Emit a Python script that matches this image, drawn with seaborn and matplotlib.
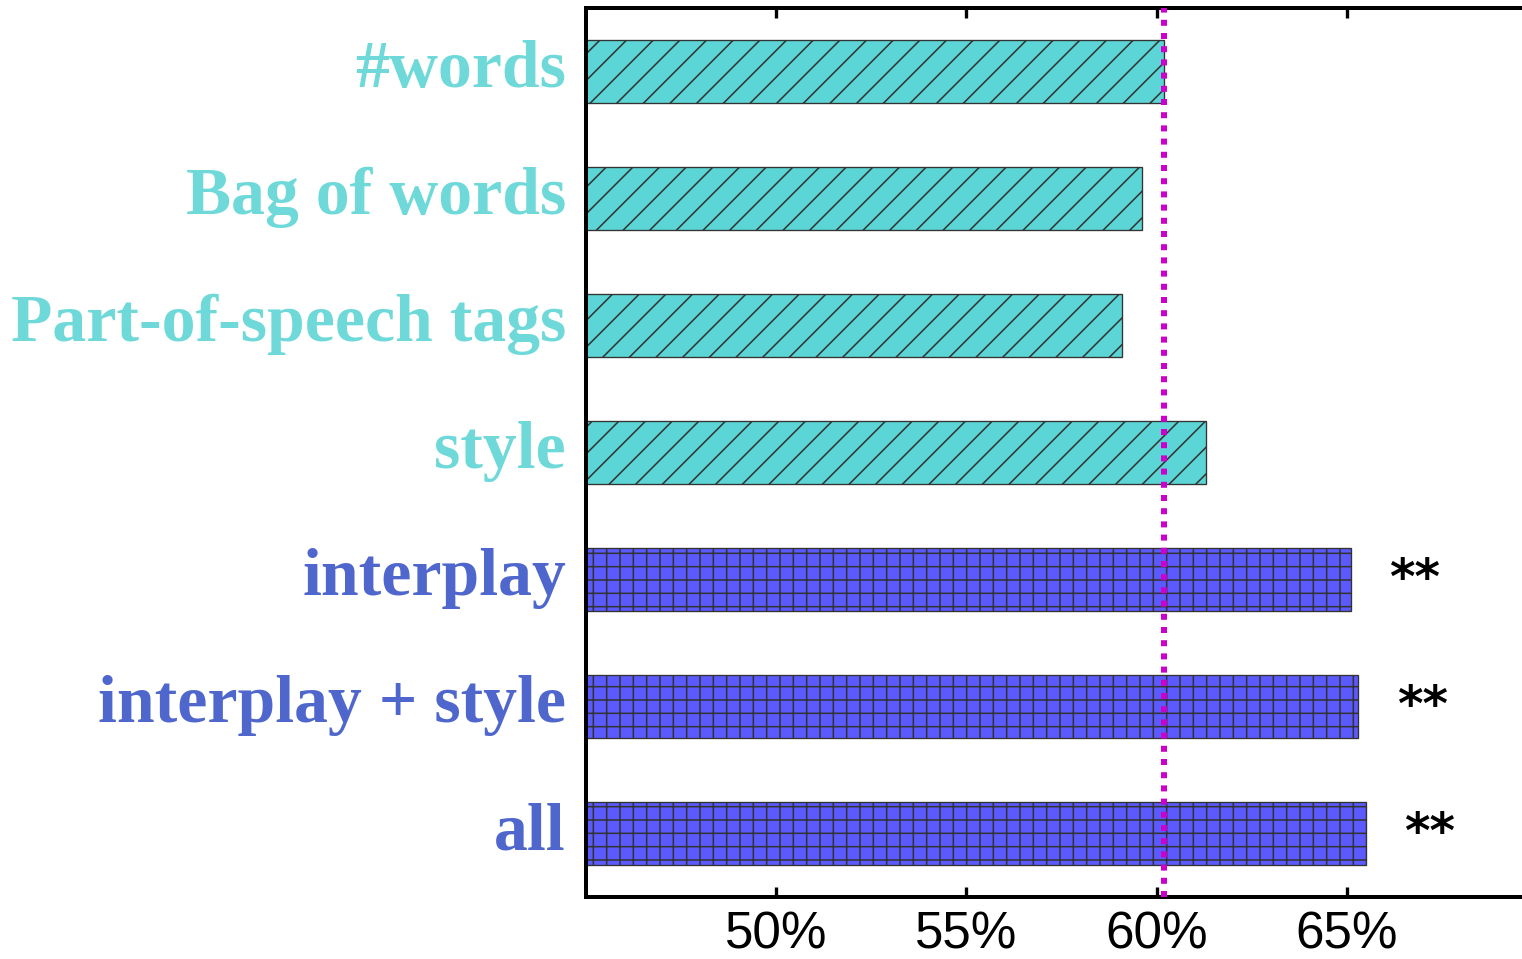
import pandas as pd
import matplotlib
matplotlib.use('Agg')
import matplotlib.pyplot as plt
import matplotlib.transforms as mtransforms
import seaborn as sns

features = ['#words', 'Bag of words', 'Part-of-speech tags', 'style',
            'interplay', 'interplay + style', 'all']
accuracy = [60.2, 59.6, 59.1, 61.3, 65.1, 65.3, 65.5]
group = ['baseline', 'baseline', 'baseline', 'baseline', 'ours', 'ours', 'ours']
significance = ['', '', '', '', '**', '**', '**']
baseline_level = 60.2

bar_colors = {'baseline': '#5BD5D5', 'ours': '#5A5AFF'}
label_colors = {'baseline': '#6FD9D9', 'ours': '#4F67CC'}
hatches = {'baseline': '//', 'ours': '++'}

df = pd.DataFrame({'feature': features, 'accuracy': accuracy, 'group': group})

sns.set_style('white')
plt.rcParams['font.family'] = ['Liberation Sans', 'DejaVu Sans']
plt.rcParams['hatch.linewidth'] = 0.7
plt.rcParams['hatch.color'] = '#1a1a1a'

dpi = 160
fig = plt.figure(figsize=(1522 / dpi, 959 / dpi), dpi=dpi)
ax = fig.add_axes([586 / 1522, 62 / 959, 1 - 586 / 1522, 889 / 959])

sns.barplot(data=df, y='feature', x='accuracy', hue='group', palette=bar_colors,
            orient='h', width=0.5, dodge=False, legend=False, ax=ax,
            saturation=1, edgecolor='#333333', linewidth=0.6)

for bar_patch in ax.patches:
    y_mid = bar_patch.get_y() + bar_patch.get_height() / 2
    idx = int(round(y_mid))
    bar_patch.set_hatch(hatches[group[idx]])

ax.axvline(baseline_level, color='#CC00CC', lw=2.7, linestyle=(0, (1, 1.2)), zorder=5)

for i, (val, sig) in enumerate(zip(accuracy, significance)):
    if sig:
        ax.text(val + 1.68, i, sig, ha='center', va='center', fontsize=22,
                fontweight='bold', color='black', family='DejaVu Sans')

ax.set_xlim(45, 69.6)
ax.set_ylim(6.5, -0.5)
ax.set_xticks([50, 55, 60, 65])
ax.set_xticklabels(['50%', '55%', '60%', '65%'], fontsize=23, color='black')
ax.tick_params(axis='x', direction='in', top=True, bottom=True, length=4.5,
               width=1.5, pad=6, colors='black')
ax.tick_params(axis='y', length=0, pad=9)
ax.set_yticks(range(len(features)))
ax.set_yticklabels(features, fontsize=30.5, fontweight='bold',
                   family=['Liberation Serif', 'DejaVu Serif'])
# labels sit a little above the bar centres in the original
shift_up = mtransforms.ScaledTranslation(0, 0.05, fig.dpi_scale_trans)
for lbl, g in zip(ax.get_yticklabels(), group):
    lbl.set_color(label_colors[g])
    lbl.set_transform(lbl.get_transform() + shift_up)

ax.set_xlabel('')
ax.set_ylabel('')
for side in ['left', 'top', 'bottom']:
    ax.spines[side].set_linewidth(1.8)
    ax.spines[side].set_color('black')
ax.spines['right'].set_visible(False)

fig.savefig('out.png', dpi=dpi)
